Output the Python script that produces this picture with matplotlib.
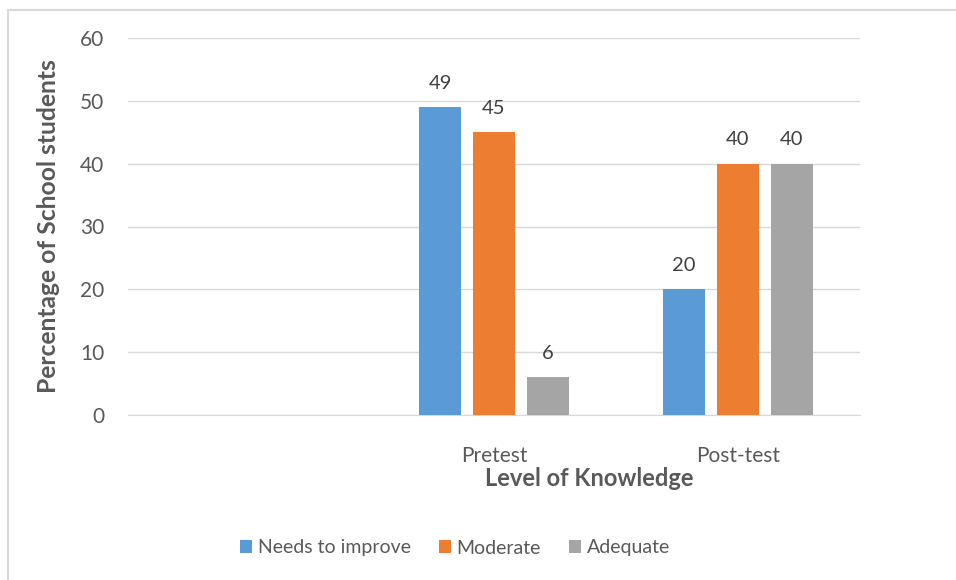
import matplotlib.pyplot as plt
import numpy as np
from matplotlib.patches import Rectangle

# data
categories = ["", "Pretest", "Post-test"]
series_names = ["Needs to improve", "Moderate", "Adequate"]
needs_to_improve = [np.nan, 49, 20]
moderate = [np.nan, 45, 40]
adequate = [np.nan, 6, 40]
colors = ["#5B9BD5", "#ED7D31", "#A5A5A5"]

plt.rcParams['font.family'] = ['Lato', 'DejaVu Sans']
txt = "#595959"

fig = plt.figure(figsize=(9.56, 5.8), dpi=100)
ax = fig.add_axes([128/956, 1-415/580, (860-128)/956, (415-38)/580])

# outer chart border
fig.patches.append(Rectangle((8/956, -0.1), 1.2, 1-10/580+0.1, transform=fig.transFigure,
                             fill=False, edgecolor="#D9D9D9", linewidth=1.5))

x = np.arange(len(categories))
width = 42/244
step = 54/244
for i, (vals, name) in enumerate(zip([needs_to_improve, moderate, adequate], series_names)):
    bars = ax.bar(x + (i-1)*step, vals, width, color=colors[i], label=name, zorder=3)
    for b, v in zip(bars, vals):
        if not np.isnan(v):
            ax.text(b.get_x()+b.get_width()/2, v + 3.8, f"{v:g}", ha="center", va="center",
                    fontsize=14.5, color="#404040")

ax.set_xlim(-0.5, 2.5)
ax.set_ylim(0, 60)
ax.set_yticks(range(0, 61, 10))
ax.set_xticks(x)
ax.set_xticklabels(categories)
ax.grid(axis="y", color="#D9D9D9", linewidth=1, zorder=0)
for s in ["top", "right", "left"]:
    ax.spines[s].set_visible(False)
ax.spines["bottom"].set_color("#D9D9D9")
ax.tick_params(axis="both", length=0, labelsize=15, labelcolor=txt)
ax.tick_params(axis="y", pad=17)
ax.tick_params(axis="x", pad=22)

ax.set_ylabel("Percentage of School students", fontsize=17.7, fontweight="bold", color=txt)
ax.yaxis.set_label_coords(-0.093, 0.5)
fig.text(589/956, 1-478/580, "Level of Knowledge", ha="center", va="center",
         fontsize=17, fontweight="bold", color=txt)

fig.legend(loc="center", bbox_to_anchor=(455/956, 1-548/580), ncol=3, frameon=False,
           fontsize=14, labelcolor=txt, handlelength=0.6, handleheight=0.6,
           handletextpad=0.3, columnspacing=1.45)

fig.savefig("out.png", dpi=100)
